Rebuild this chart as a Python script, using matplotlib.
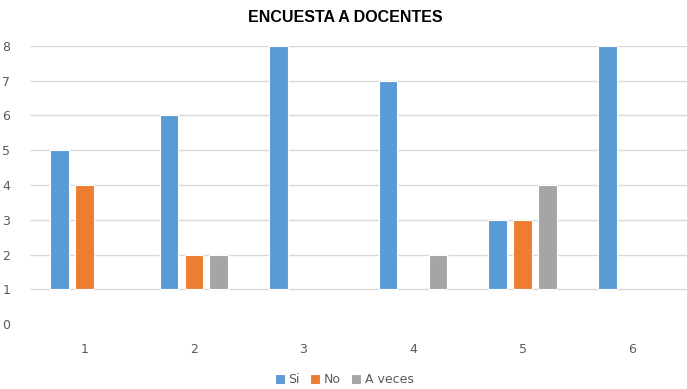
import numpy as np
import matplotlib.pyplot as plt

categories = ['1', '2', '3', '4', '5', '6']
si = [5, 6, 8, 7, 3, 8]
no = [4, 2, 0, 0, 3, 0]
a_veces = [0, 2, 0, 2, 4, 0]

series = [('Si', si, '#5B9BD5'), ('No', no, '#ED7D31'), ('A veces', a_veces, '#A5A5A5')]

fig = plt.figure(figsize=(6.87, 3.89), dpi=100)
ax = fig.add_axes([0.043, 0.167, 0.957, 0.715])

x = np.arange(1, len(categories) + 1)
width = 0.17
offset = 0.227
base = 1  # horizontal axis crosses at 1

for i, (name, vals, color) in enumerate(series):
    vals = np.array(vals, dtype=float)
    keep = vals > 0
    ax.bar(x[keep] + (i - 1) * offset, vals[keep] - base, width, bottom=base, color=color,
           edgecolor='white', linewidth=0.8, label=name, zorder=3)

ax.set_xlim(0.5, 6.5)
ax.set_ylim(0, 8)
ax.set_yticks(range(0, 9))
ax.set_xticks(x)
ax.set_xticklabels(categories)

# gridlines from 1 up, no line at 0
for y in range(1, 9):
    ax.axhline(y, color='#D9D9D9', linewidth=1, zorder=1)

for s in ax.spines.values():
    s.set_visible(False)
ax.tick_params(length=0, colors='#595959', labelsize=9)
ax.tick_params(axis='x', pad=14)
ax.tick_params(axis='y', pad=14)

fig.text(0.502, 0.955, 'ENCUESTA A DOCENTES', ha='center', va='center',
         fontsize=11.5, fontweight='bold', color='#000000', family='Liberation Sans')

ax.legend(loc='lower center', bbox_to_anchor=(0.5 - 0.043 / 2, -0.265), ncol=3,
          frameon=False, fontsize=9, handlelength=0.8, handleheight=0.8,
          handletextpad=0.3, columnspacing=0.8, labelcolor='#595959')

fig.savefig('out.png', dpi=100)
